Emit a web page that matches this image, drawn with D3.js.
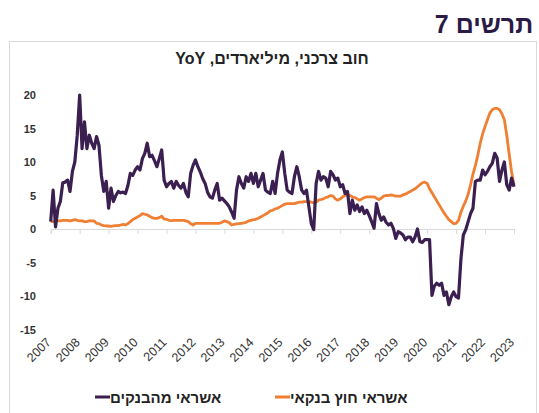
<!DOCTYPE html>
<html>
<head>
<meta charset="utf-8">
<script src="https://cdn.jsdelivr.net/npm/d3@7"></script>
<style>
  html, body { margin: 0; padding: 0; background: #fff; }
  svg { display: block; font-family: Arial, "Liberation Sans", "DejaVu Sans", sans-serif; }
</style>
</head>
<body>
<svg id="chart" width="539" height="413"></svg>
<script>
// year labels on the x axis (one per 12 months)
var years = ['2007','2008','2009','2010','2011','2012','2013','2014','2015','2016','2017','2018','2019','2020','2021','2022','2023'];
var yTicks = [-15,-10,-5,0,5,10,15,20];

// monthly YoY, Jan 2007 .. Jan 2023
var bankCredit = [
  1.1, 5.8, 0.3, 3.1, 4.1, 6.9, 7.0, 7.3, 5.6, 8.6, 10.0, 14.0,       // 2007
  20.0, 12.0, 16.0, 12.0, 14.0, 12.8, 12.0, 13.8, 12.5, 8.0, 5.6, 7.1, // 2008
  3.1, 6.1, 4.1, 5.0, 5.6, 5.4, 5.5, 5.3, 6.5, 8.3, 8.0, 8.8,          // 2009
  9.3, 8.8, 10.5, 11.3, 12.8, 10.8, 11.0, 10.2, 9.3, 10.5, 11.8, 7.3,  // 2010
  6.3, 6.8, 7.1, 6.1, 7.1, 6.5, 6.1, 6.8, 5.5, 4.8, 8.3, 9.5,          // 2011
  10.3, 9.3, 8.5, 7.5, 6.8, 5.5, 4.8, 4.6, 5.8, 6.8, 4.3, 4.6,         // 2012
  4.2, 3.8, 3.3, 2.5, 1.6, 5.8, 7.8, 6.8, 6.1, 7.8, 7.1, 8.3,          // 2013
  6.8, 8.3, 6.3, 7.3, 8.3, 5.8, 5.5, 5.3, 7.1, 5.3, 8.3, 10.3,         // 2014
  11.5, 8.3, 5.8, 5.5, 5.3, 7.8, 9.3, 7.8, 5.8, 5.3, 5.8, 3.3,         // 2015
  0.8, -0.1, 6.8, 8.6, 7.3, 7.8, 7.6, 6.3, 8.6, 8.1, 7.3, 7.6,         // 2016
  6.3, 6.6, 5.3, 5.6, 2.3, 4.3, 2.8, 3.6, 2.6, 3.3, 2.3, 2.8,          // 2017
  2.0, 1.1, 0.1, 3.8, 2.3, 1.3, 1.8, 1.0, 0.6, 0.85, 0.1, -1.4,        // 2018
  -0.4, -0.6, -0.9, -1.6, -1.2, -1.2, -1.9, -1.2, 0.0, -1.9, -2.0, -1.6, // 2019
  -1.6, -1.6, -9.9, -8.5, -8.1, -8.4, -8.1, -9.9, -9.4, -11.3, -10.1, -9.4, // 2020
  -10.1, -10.3, -4.5, -0.9, -0.1, 1.1, 2.3, 3.1, 7.1, 7.3, 7.3, 8.8,   // 2021
  8.1, 8.6, 9.3, 9.8, 11.3, 10.6, 7.1, 8.8, 10.0, 6.6, 5.8, 7.6,       // 2022
  6.3                                                                  // 2023
];
var nonBankCredit = [
  1.1, 1.1, 1.2, 1.2, 1.2, 1.3, 1.3, 1.3, 1.2, 1.3, 1.4, 1.3,          // 2007
  1.2, 1.2, 1.1, 1.1, 1.2, 1.2, 1.2, 0.85, 0.8, 0.6, 0.5, 0.45,        // 2008
  0.45, 0.4, 0.45, 0.5, 0.5, 0.6, 0.7, 0.6, 0.8, 1.1, 1.4, 1.6,        // 2009
  1.8, 2.0, 2.3, 2.2, 2.1, 1.9, 1.7, 1.6, 1.6, 1.7, 1.9, 1.5,          // 2010
  1.45, 1.3, 1.25, 1.3, 1.3, 1.3, 1.3, 1.3, 1.2, 1.1, 0.8, 0.6,        // 2011
  0.85, 0.85, 0.85, 0.85, 0.85, 0.85, 0.85, 0.85, 0.85, 0.85, 0.85, 1.0, // 2012
  1.2, 1.1, 0.95, 0.6, 0.7, 0.75, 0.8, 0.85, 0.9, 1.0, 1.2, 1.3,       // 2013
  1.4, 1.45, 1.6, 1.8, 2.0, 2.2, 2.4, 2.7, 2.8, 3.0, 3.1, 3.3,         // 2014
  3.5, 3.7, 3.8, 3.8, 3.8, 3.8, 3.9, 4.0, 4.0, 4.1, 4.1, 4.1,          // 2015
  4.0, 3.9, 4.0, 4.3, 4.4, 4.5, 4.7, 4.8, 5.0, 4.9, 4.5, 4.3,          // 2016
  4.5, 4.8, 5.0, 5.2, 5.0, 4.8, 4.7, 4.5, 4.3, 4.5, 4.7, 4.8,          // 2017
  4.8, 4.8, 4.8, 4.6, 4.4, 4.6, 4.9, 5.0, 5.0, 5.1, 5.0, 4.9,          // 2018
  4.9, 4.9, 5.1, 5.2, 5.4, 5.6, 5.8, 6.0, 6.3, 6.6, 6.9, 7.0,          // 2019
  6.8, 6.0, 5.4, 4.8, 4.2, 3.6, 3.0, 2.4, 1.9, 1.4, 1.1, 0.8,          // 2020
  0.85, 1.3, 2.5, 3.4, 4.2, 5.2, 6.6, 8.2, 9.5, 11.0, 12.8, 14.2,      // 2021
  15.3, 16.3, 17.3, 17.8, 18.0, 18.0, 17.8, 17.2, 16.3, 14.0, 11.2, 8.5, // 2022
  6.6                                                                  // 2023
];

var seriesNames = ['אשראי מהבנקים', 'אשראי חוץ בנקאי'];
var seriesColors = ['#3b1f50', '#ee7f33'];

var svg = d3.select('#chart');

// figure number and frame
svg.append('text')
  .attr('x', 484).attr('y', 33)
  .attr('direction', 'rtl')
  .attr('text-anchor', 'middle')
  .attr('font-size', 25).attr('font-weight', 'bold')
  .attr('fill', '#2b1a45')
  .text('תרשים 7');

svg.append('rect')
  .attr('x', 9.5).attr('y', 41.5)
  .attr('width', 527).attr('height', 400)
  .attr('fill', 'none').attr('stroke', '#d9d9d9');

svg.append('text')
  .attr('x', 272).attr('y', 64)
  .attr('direction', 'rtl')
  .attr('text-anchor', 'middle')
  .attr('font-size', 16).attr('font-weight', 'bold')
  .attr('fill', '#222')
  .text('חוב צרכני, מיליארדים, YoY');

var x = d3.scaleLinear().domain([0, 192]).range([50.7, 514]);
var y = d3.scaleLinear().domain([-15, 20]).range([329.5, 95]);

// y labels
svg.append('g').selectAll('text')
  .data(yTicks).join('text')
  .attr('x', 36).attr('y', function (d) { return y(d) + 4; })
  .attr('text-anchor', 'end')
  .attr('font-size', 11).attr('font-weight', 'bold')
  .attr('fill', '#333')
  .text(function (d) { return d; });

// zero axis with year ticks
var xAxis = svg.append('g')
  .attr('transform', 'translate(0,' + y(0) + ')')
  .call(d3.axisBottom(x)
    .tickValues(d3.range(0, 193, 12))
    .tickSize(5)
    .tickFormat(''));
xAxis.select('.domain').attr('stroke', '#d9d9d9');
xAxis.selectAll('.tick line').attr('stroke', '#d9d9d9');

// year labels low, rotated
svg.append('g').selectAll('text')
  .data(years).join('text')
  .attr('transform', function (d, i) {
    return 'translate(' + (x(i * 12) + 1) + ',343) rotate(-45)';
  })
  .attr('text-anchor', 'end')
  .attr('font-size', 12.5)
  .attr('fill', '#333')
  .text(function (d) { return d; });

var line = d3.line()
  .x(function (d, i) { return x(i); })
  .y(function (d) { return y(d); });

svg.append('path')
  .datum(nonBankCredit)
  .attr('d', line)
  .attr('fill', 'none')
  .attr('stroke', seriesColors[1])
  .attr('stroke-width', 2.8)
  .attr('stroke-linejoin', 'round');

svg.append('path')
  .datum(bankCredit)
  .attr('d', line)
  .attr('fill', 'none')
  .attr('stroke', seriesColors[0])
  .attr('stroke-width', 3.2)
  .attr('stroke-linejoin', 'round');

// legend
var legendX = [95, 275];
var legend = svg.append('g').selectAll('g')
  .data(seriesNames).join('g')
  .attr('transform', function (d, i) { return 'translate(' + legendX[i] + ',397)'; });
legend.append('line')
  .attr('x1', 0).attr('x2', 15)
  .attr('stroke', function (d, i) { return seriesColors[i]; })
  .attr('stroke-width', 3);
legend.append('text')
  .attr('x', 15).attr('y', 6)
  .attr('font-size', 15).attr('font-weight', 'bold')
  .attr('fill', '#222')
  .text(function (d) { return d; });
</script>
</body>
</html>
